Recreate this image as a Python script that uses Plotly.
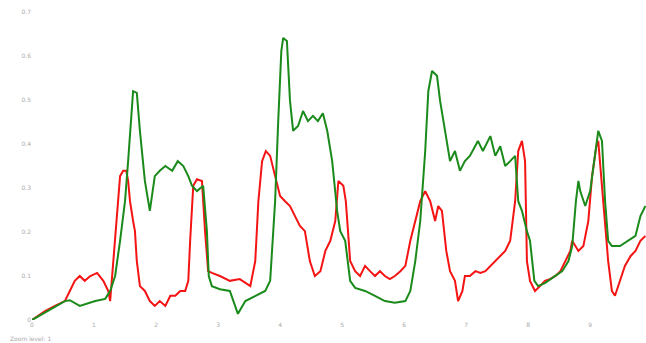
import plotly.graph_objects as go

# Values
green_x = [0, 0.53, 0.61, 0.77, 1.02, 1.18, 1.26, 1.34, 1.42, 1.50, 1.55, 1.61, 1.63, 1.69, 1.74,
           1.82, 1.90, 1.98, 2.06, 2.15, 2.26, 2.35, 2.44, 2.52, 2.58, 2.66, 2.76, 2.82, 2.85, 2.90,
           3.03, 3.19, 3.32, 3.44, 3.60, 3.76, 3.84, 3.92, 3.97, 4.02, 4.05, 4.11, 4.16, 4.21, 4.29,
           4.37, 4.45, 4.53, 4.61, 4.69, 4.76, 4.84, 4.92, 4.97, 5.05, 5.13, 5.21, 5.37, 5.53, 5.69,
           5.85, 6.02, 6.10, 6.18, 6.26, 6.34, 6.39, 6.45, 6.53, 6.58, 6.66, 6.74, 6.82, 6.90, 6.98,
           7.06, 7.19, 7.27, 7.39, 7.47, 7.55, 7.63, 7.71, 7.79, 7.84, 7.90, 7.98, 8.03, 8.10, 8.16,
           8.27, 8.44, 8.55, 8.65, 8.71, 8.77, 8.81, 8.84, 8.92, 9.00, 9.08, 9.13, 9.19, 9.24, 9.29,
           9.35, 9.48, 9.61, 9.73, 9.81, 9.89]
green_y = [0, 0.043, 0.045, 0.032, 0.043, 0.048, 0.066, 0.100, 0.180, 0.270, 0.361, 0.498, 0.520, 0.516, 0.430,
           0.316, 0.248, 0.327, 0.339, 0.350, 0.339, 0.361, 0.350, 0.327, 0.305, 0.293, 0.305, 0.202, 0.100, 0.077,
           0.070, 0.066, 0.014, 0.043, 0.055, 0.066, 0.089, 0.270, 0.452, 0.611, 0.641, 0.634, 0.498, 0.430, 0.441,
           0.475, 0.452, 0.464, 0.452, 0.470, 0.430, 0.361, 0.248, 0.202, 0.180, 0.089, 0.073, 0.066, 0.055, 0.043,
           0.039, 0.043, 0.066, 0.134, 0.225, 0.384, 0.520, 0.566, 0.555, 0.498, 0.430, 0.361, 0.384, 0.339, 0.361,
           0.373, 0.407, 0.384, 0.418, 0.373, 0.395, 0.350, 0.361, 0.373, 0.270, 0.248, 0.202, 0.180, 0.089, 0.077,
           0.084, 0.100, 0.111, 0.134, 0.168, 0.270, 0.316, 0.293, 0.259, 0.293, 0.373, 0.430, 0.407, 0.270, 0.180,
           0.168, 0.168, 0.180, 0.191, 0.236, 0.259]

red_x = [0, 0.21, 0.37, 0.53, 0.61, 0.69, 0.77, 0.85, 0.94, 1.05, 1.15, 1.23, 1.26, 1.31, 1.35, 1.39,
         1.42, 1.47, 1.52, 1.55, 1.58, 1.63, 1.66, 1.69, 1.74, 1.82, 1.90, 1.98, 2.06, 2.15, 2.23, 2.31,
         2.39, 2.47, 2.52, 2.55, 2.60, 2.66, 2.74, 2.79, 2.84, 2.90, 3.03, 3.19, 3.35, 3.52, 3.60, 3.65,
         3.71, 3.77, 3.84, 3.92, 4.00, 4.08, 4.16, 4.24, 4.32, 4.40, 4.48, 4.56, 4.65, 4.73, 4.81, 4.89,
         4.94, 5.02, 5.06, 5.13, 5.21, 5.29, 5.37, 5.45, 5.53, 5.61, 5.69, 5.77, 5.85, 5.94, 6.02, 6.10,
         6.18, 6.26, 6.34, 6.42, 6.50, 6.55, 6.61, 6.68, 6.74, 6.82, 6.87, 6.94, 6.98, 7.06, 7.15, 7.23,
         7.31, 7.39, 7.47, 7.55, 7.63, 7.71, 7.79, 7.84, 7.90, 7.95, 7.98, 8.03, 8.11, 8.19, 8.27, 8.35,
         8.44, 8.52, 8.60, 8.68, 8.71, 8.81, 8.89, 8.97, 9.03, 9.10, 9.13, 9.16, 9.21, 9.29, 9.35, 9.40,
         9.48, 9.56, 9.65, 9.73, 9.81, 9.89]
red_y = [0, 0.020, 0.032, 0.043, 0.066, 0.089, 0.100, 0.089, 0.100, 0.107, 0.089, 0.066, 0.043, 0.134, 0.202, 0.270,
         0.327, 0.339, 0.339, 0.316, 0.270, 0.225, 0.202, 0.134, 0.077, 0.066, 0.043, 0.032, 0.043, 0.032, 0.055, 0.055,
         0.066, 0.066, 0.089, 0.180, 0.305, 0.320, 0.316, 0.202, 0.111, 0.107, 0.100, 0.089, 0.093, 0.077, 0.134, 0.270,
         0.361, 0.384, 0.373, 0.327, 0.282, 0.270, 0.259, 0.236, 0.214, 0.202, 0.134, 0.100, 0.111, 0.157, 0.180, 0.225,
         0.316, 0.305, 0.270, 0.134, 0.111, 0.100, 0.123, 0.111, 0.100, 0.111, 0.100, 0.093, 0.100, 0.111, 0.123, 0.180,
         0.225, 0.270, 0.293, 0.270, 0.225, 0.259, 0.248, 0.157, 0.111, 0.089, 0.043, 0.066, 0.100, 0.100, 0.111, 0.107,
         0.111, 0.123, 0.134, 0.145, 0.157, 0.180, 0.270, 0.384, 0.407, 0.361, 0.134, 0.089, 0.066, 0.077, 0.089, 0.093,
         0.100, 0.111, 0.134, 0.157, 0.180, 0.157, 0.168, 0.225, 0.327, 0.395, 0.407, 0.361, 0.270, 0.134, 0.066, 0.055,
         0.089, 0.123, 0.145, 0.157, 0.180, 0.191]

x_ticks = [0, 1, 2, 3, 4, 5, 6, 7, 8, 9]
y_ticks = [0, 0.1, 0.2, 0.3, 0.4, 0.5, 0.6, 0.7]

fig = go.Figure()
fig.add_trace(go.Scatter(x=red_x, y=red_y, mode="lines",
                         line=dict(color="#f41414", width=2), showlegend=False))
fig.add_trace(go.Scatter(x=green_x, y=green_y, mode="lines",
                         line=dict(color="#1a8a1a", width=2), showlegend=False))

fig.update_layout(
    width=646, height=343,
    margin=dict(l=32, r=0, t=12, b=23),
    paper_bgcolor="white", plot_bgcolor="white",
    font=dict(family="DejaVu Sans", size=6, color="#aaaaaa"),
    xaxis=dict(range=[0, 9.9], tickvals=x_ticks, showgrid=False, zeroline=False,
               showline=False, ticks="", automargin=False,
               tickfont=dict(size=6, color="#aaaaaa")),
    yaxis=dict(range=[0, 0.7], tickvals=y_ticks, showgrid=False, zeroline=False,
               showline=False, ticks="", automargin=False,
               tickfont=dict(size=6, color="#aaaaaa")),
    annotations=[dict(text="Zoom level: 1", x=0, y=0, xref="paper", yref="paper",
                      xshift=-24, yshift=-18, showarrow=False, xanchor="left",
                      yanchor="middle", font=dict(size=6, color="#aaaaaa"))],
)

fig.write_html(
    "out.html",
    config={"displayModeBar": False},
    post_script="document.body.style.margin='0';document.body.style.overflow='hidden';",
)
